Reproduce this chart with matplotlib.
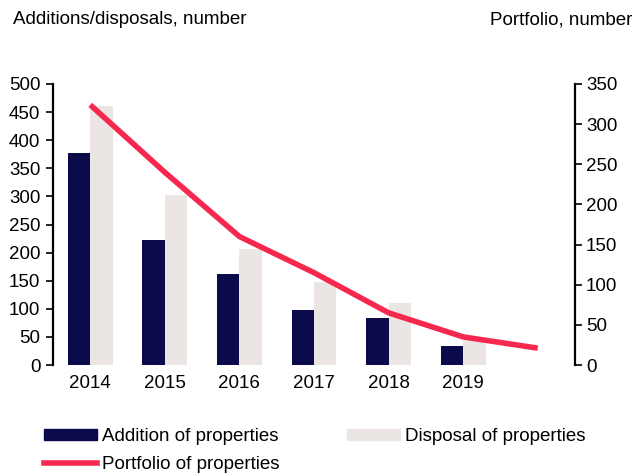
import matplotlib
matplotlib.use("Agg")
import matplotlib.pyplot as plt
import numpy as np
from matplotlib.patches import Patch
from matplotlib.lines import Line2D

plt.rcParams['font.family'] = ['Liberation Sans', 'DejaVu Sans']

years = ["2014", "2015", "2016", "2017", "2018", "2019", ""]
additions = [377, 222, 162, 97, 83, 34]
disposals = [461, 302, 207, 148, 110, 45]
portfolio = [324, 240, 160, 115, 65, 35, 21]

c_add = "#0b0a4a"
c_disp = "#ebe6e4"
c_port = "#f7284f"
fs = 13.5

fig = plt.figure(figsize=(6.34, 4.75), dpi=100)
ax = fig.add_axes([53/634, 1-365/475, (575-53)/634, (365-84)/475])
ax2 = ax.twinx()

x = np.arange(len(years))
w = 0.3
ax.bar(x[:len(additions)] - w/2, additions, width=w, color=c_add, zorder=2)
ax.bar(x[:len(disposals)] + w/2, disposals, width=w, color=c_disp, zorder=2)
ax2.plot(x[:len(portfolio)], portfolio, color=c_port, lw=4, solid_capstyle='butt', solid_joinstyle='round')

ax.set_xlim(-0.5, len(years) - 0.5)
ax.set_ylim(0, 500)
ax.set_yticks(range(0, 501, 50))
ax2.set_ylim(0, 350)
ax2.set_yticks(range(0, 351, 50))
ax.set_xticks(x)
ax.set_xticklabels(years)

for a in (ax, ax2):
    for s in ('top', 'bottom'):
        a.spines[s].set_visible(False)
ax.spines['right'].set_visible(False)
ax2.spines['left'].set_visible(False)
ax.spines['left'].set_linewidth(1.6)
ax2.spines['right'].set_linewidth(1.6)
ax.tick_params(axis='y', labelsize=fs, width=1.2, length=5, pad=4)
ax2.tick_params(axis='y', labelsize=fs, width=1.2, length=5, pad=3)
ax.tick_params(axis='x', labelsize=fs, length=0, pad=7)

fig.text(13/634, 1-20/475, "Additions/disposals, number", fontsize=fs, va='center', ha='left')
fig.text(632/634, 1-20/475, "Portfolio, number", fontsize=fs, va='center', ha='right')

handles = [Patch(color=c_add, label="Addition of properties"),
           Line2D([], [], color=c_port, lw=4, label="Portfolio of properties"),
           Patch(color=c_disp, label="Disposal of properties")]
fig.legend(handles=handles, ncol=2, loc='upper left', bbox_to_anchor=(44/634, 1-428/475),
           frameon=False, fontsize=fs, handlelength=2.8, handleheight=0.5,
           handletextpad=0.3, columnspacing=3.6, labelspacing=0.6, borderpad=0, borderaxespad=0)

fig.savefig("out.png", dpi=100)
